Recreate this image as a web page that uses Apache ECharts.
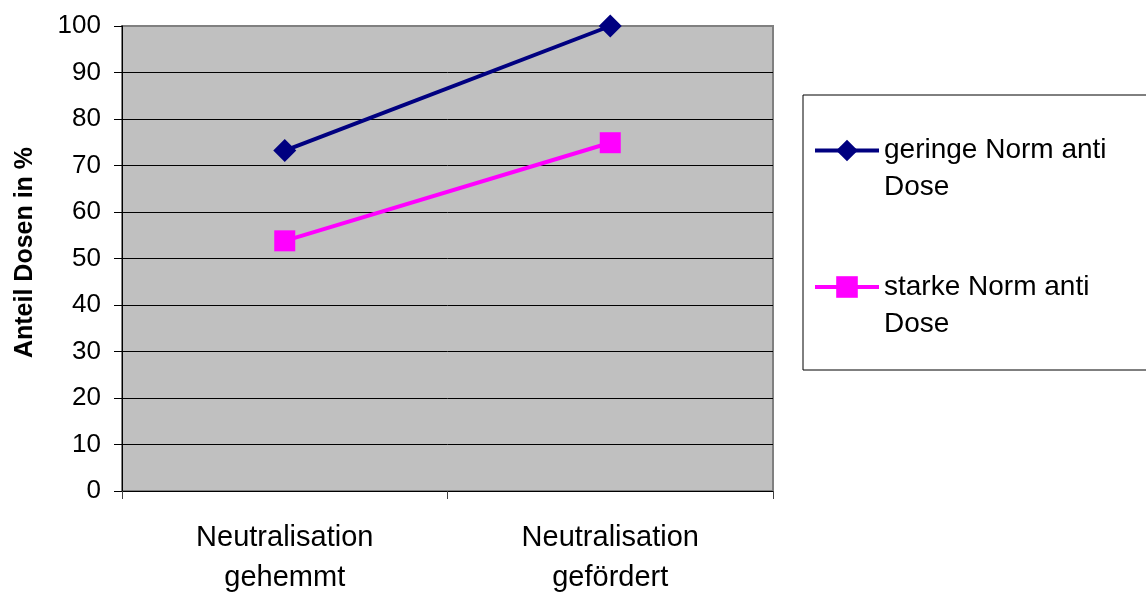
<!DOCTYPE html>
<html><head><meta charset="utf-8">
<script src="https://cdn.jsdelivr.net/npm/echarts@6/dist/echarts.min.js"></script>
<style>html,body{margin:0;padding:0;background:#fff}#c{width:1146px;height:592px}</style>
</head><body><div id="c"></div>
<script>
const categories = ['Neutralisation\ngehemmt', 'Neutralisation\ngefördert'];
const seriesNames = ['geringe Norm anti\nDose', 'starke Norm anti\nDose'];
const geringe = [73.2, 100];
const starke = [53.8, 74.9];
const yTicks = {min: 0, max: 100, interval: 10};
const yTitle = 'Anteil Dosen in %';

const FONT = '"Liberation Sans", Arial, sans-serif';
const splitColors = ['#000','#000','#000','#000','#000','#000','#000','#000','#000','#000','#808080'];
const chart = echarts.init(document.getElementById('c'), null, {renderer: 'canvas'});
chart.setOption({
  animation: false,
  backgroundColor: '#ffffff',
  grid: {left: 122, right: 373, top: 26, bottom: 101, show: true, outerBoundsMode: 'none',
         containLabel: false,
         backgroundColor: '#C0C0C0', borderColor: '#808080', borderWidth: 2},
  xAxis: {
    type: 'category', data: categories, boundaryGap: true,
    axisLine: {show: true, lineStyle: {color: '#000', width: 1}},
    axisTick: {show: true, length: 8, lineStyle: {color: '#404040'}},
    axisLabel: {fontFamily: FONT, fontSize: 29, color: '#000', lineHeight: 40, margin: 27}
  },
  yAxis: {
    type: 'value', min: yTicks.min, max: yTicks.max, interval: yTicks.interval,
    name: yTitle, nameLocation: 'middle', nameGap: 84,
    nameTextStyle: {fontFamily: FONT, fontSize: 25, fontWeight: 'bold', color: '#000',
                    padding: [0, 0, 0, 12]},
    axisLine: {show: true, lineStyle: {color: '#000', width: 1}},
    axisTick: {show: true, length: 8, lineStyle: {color: '#000'}},
    axisLabel: {fontFamily: FONT, fontSize: 26, color: '#000', margin: 21},
    splitLine: {show: true, lineStyle: {color: splitColors, width: 1}}
  },
  legend: {
    orient: 'vertical', left: 803, top: 95,
    padding: [0, 23, 27.5, 10],
    borderColor: '#000', borderWidth: 1, backgroundColor: '#fff',
    itemWidth: 64, itemHeight: 27, itemGap: 25.5,
    data: seriesNames,
    formatter: function (n) { return '\n' + n; },
    lineStyle: {width: 4},
    textStyle: {fontFamily: FONT, fontSize: 28, color: '#000', lineHeight: 37, width: 240}
  },
  series: [
    {name: seriesNames[0], type: 'line', data: geringe, symbol: 'diamond', symbolSize: 23,
     itemStyle: {color: '#000080'}, lineStyle: {color: '#000080', width: 4}},
    {name: seriesNames[1], type: 'line', data: starke, symbol: 'rect', symbolSize: 21,
     itemStyle: {color: '#FF00FF'}, lineStyle: {color: '#FF00FF', width: 4}}
  ]
});
</script></body></html>
